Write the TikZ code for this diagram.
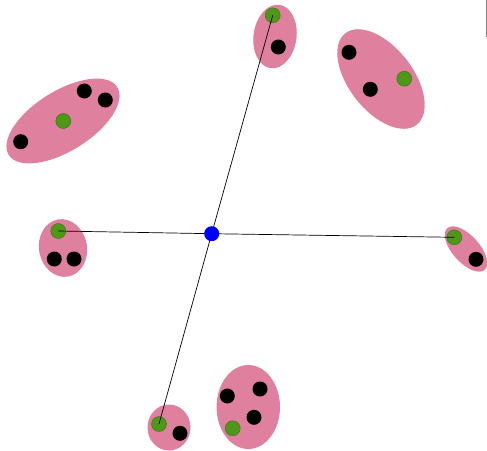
\documentclass[tikz,border=0pt]{standalone}
\definecolor{blobpink}{RGB}{223,128,158}
\definecolor{seedgreen}{RGB}{78,152,24}
\definecolor{seededge}{RGB}{60,110,20}
\begin{document}
\begin{tikzpicture}[x=1pt,y=1pt,
  blob/.style={fill=blobpink,draw=none,ellipse,inner sep=0pt},
  bdot/.style={circle,fill=black,inner sep=0pt,minimum size=15pt},
  gdot/.style={circle,fill=seedgreen,draw=seededge,line width=0.4pt,inner sep=0pt,minimum size=15pt},
  hub/.style={circle,fill=blue,inner sep=0pt,minimum size=15pt},
  spoke/.style={draw=black,line width=0.7pt}]
\useasboundingbox (0,0) rectangle (487,-450);
% clusters
\fill[blobpink,rotate around={-8:(275,-36.5)}] (275,-36.5) ellipse (21.5 and 32);
\fill[blobpink,rotate around={-52:(381,-79)}] (381,-79) ellipse (58 and 32);
\fill[blobpink,rotate around={32:(63,-121)}] (63,-121) ellipse (64 and 30);
\fill[blobpink,rotate around={10:(63,-248)}] (63,-248) ellipse (24 and 29);
\fill[blobpink,rotate around={-48:(466,-249)}] (466,-249) ellipse (28 and 13.5);
\fill[blobpink] (169,-427.5) ellipse (21.5 and 23);
\fill[blobpink] (248.3,-407) ellipse (31.7 and 42);
% dots
\node[gdot] (g1) at (272.7,-15.3) {};
\node[bdot] (b1) at (278.3,-47) {};
\node[bdot] (b2) at (349,-52.3) {};
\node[bdot] (b3) at (370.3,-89.3) {};
\node[gdot] (g2) at (404.3,-78.7) {};
\node[bdot] (b4) at (84.3,-91) {};
\node[bdot] (b5) at (105.3,-100) {};
\node[gdot] (g3) at (63.3,-121) {};
\node[bdot] (b6) at (20.7,-141.7) {};
\node[gdot] (g4) at (58.3,-231) {};
\node[bdot] (b7) at (54.3,-259) {};
\node[bdot] (b8) at (74,-259) {};
\node[gdot] (g5) at (454.3,-237.3) {};
\node[bdot] (b9) at (476,-259.3) {};
\node[gdot] (g6) at (159,-424) {};
\node[bdot] (b10) at (180,-433.3) {};
\node[bdot] (b11) at (227.3,-396) {};
\node[bdot] (b12) at (260,-389) {};
\node[bdot] (b13) at (254,-417.3) {};
\node[gdot] (g7) at (232.7,-428.3) {};
% hub and spokes
\coordinate (c) at (211.7,-233.7);
\draw[spoke] (c) -- (g1.center);
\draw[spoke] (c) -- (g4.center);
\draw[spoke] (c) -- (g5.center);
\draw[spoke] (c) -- (g6.center);
\node[hub] (h) at (c) {};
% edge mark
\coordinate (e1) at (486,0);
\coordinate (e2) at (486,-37);
\draw[gray,line width=0.8pt] (e1) -- (e2);
\end{tikzpicture}
\end{document}
